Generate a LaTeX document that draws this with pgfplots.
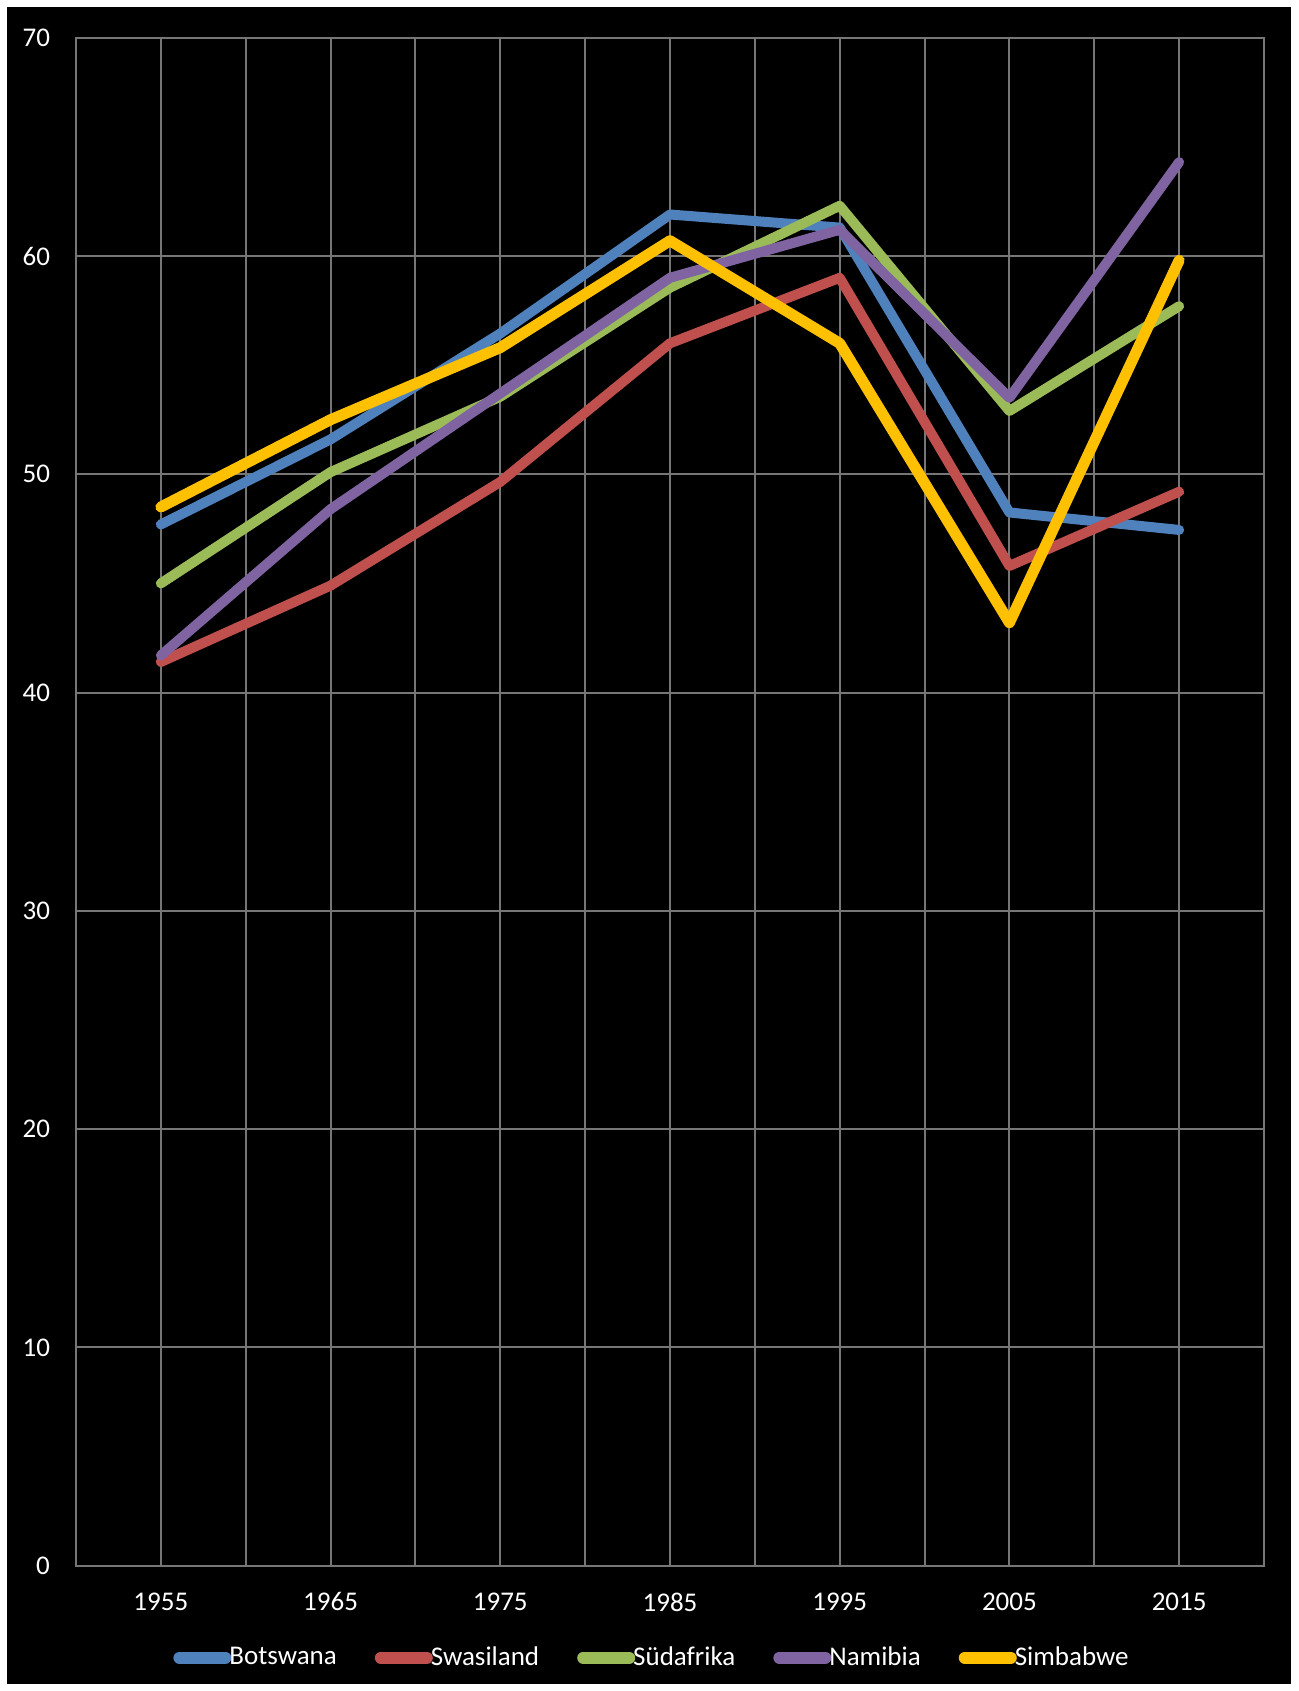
\documentclass[border=0pt]{standalone}
\usepackage{pgfplots}
\pgfplotsset{compat=1.18}
\usepackage{fontspec}
\setmainfont{Carlito}

\definecolor{botsw}{HTML}{4F81BD}
\definecolor{swasi}{HTML}{C0504D}
\definecolor{suedaf}{HTML}{9BBB59}
\definecolor{namib}{HTML}{8064A2}
\definecolor{simb}{HTML}{FFC000}
\definecolor{gridgray}{RGB}{118,118,118}

\begin{document}
\begin{tikzpicture}
% page: 1298 x 1691 px at 0.5pt per px; axis box sits at 76..1264 / 37.7..1565.7 px
\fill[white] (-38pt,-62.65pt) rectangle (611pt,782.85pt);
\fill[black] (-34.5pt,-59.15pt) rectangle (607.5pt,779.35pt);
\begin{axis}[
    at={(0,0)}, anchor=south west,
    scale only axis,
    width=594pt, height=764pt,
    xmin=1950, xmax=2020,
    ymin=0, ymax=70,
    xtick={1955,1965,...,2015},
    minor xtick={1950,1960,...,2020},
    ytick={0,10,...,70},
    grid=both,
    major grid style={gridgray, line width=1pt},
    minor grid style={gridgray, line width=1pt},
    axis line style={gridgray, line width=1pt},
    major tick length=0pt, minor tick length=0pt,
    /pgf/number format/set thousands separator={},
    /pgf/number format/assume math mode=true,
    ticklabel style={font=\fontsize{13.5}{16}\selectfont, text=white},
    yticklabel style={xshift=-9.5pt},
    xticklabel style={yshift=-10pt},
    legend style={at={(0.4857,-0.0602)}, anchor=center, draw=none, fill=none,
        text=white, font=\fontsize{13.5}{16}\selectfont,
        legend columns=5, column sep=0pt,
        /tikz/every even column/.append style={column sep=17pt}},
    legend image code/.code={
        \draw[line width=6pt, line cap=round] (0pt,0pt) -- (23pt,0pt);},
    every axis plot/.append style={line width=5pt, line cap=round, line join=round, mark=none},
]
\addplot[botsw] coordinates {(1955,47.7) (1965,51.6) (1975,56.45) (1985,61.9) (1995,61.3) (2005,48.25) (2015,47.45)};
\addlegendentry{\hspace{-3pt}Botswana}
\addplot[swasi] coordinates {(1955,41.4) (1965,44.9) (1975,49.65) (1985,56.0) (1995,59.0) (2005,45.8) (2015,49.2)};
\addlegendentry{\hspace{-3pt}Swasiland}
\addplot[suedaf] coordinates {(1955,45.0) (1965,50.1) (1975,53.55) (1985,58.55) (1995,62.3) (2005,52.9) (2015,57.7)};
\addlegendentry{\hspace{-3pt}Südafrika}
\addplot[namib] coordinates {(1955,41.7) (1965,48.4) (1975,53.7) (1985,59.0) (1995,61.2) (2005,53.5) (2015,64.3)};
\addlegendentry{\hspace{-3pt}Namibia}
\addplot[simb, line width=5.5pt] coordinates {(1955,48.5) (1965,52.5) (1975,55.8) (1985,60.7) (1995,56.0) (2005,43.2) (2015,59.8)};
\addlegendentry{\hspace{-3pt}Simbabwe}
\end{axis}
\end{tikzpicture}
\end{document}
